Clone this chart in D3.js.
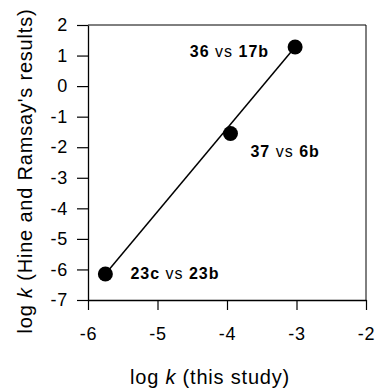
<!DOCTYPE html>
<html>
<head>
<meta charset="utf-8">
<script src="https://cdn.jsdelivr.net/npm/d3@7"></script>
<style>
  body { margin: 0; background: #fff; }
  svg text { font-family: "Liberation Sans", Arial, sans-serif; fill: #000; }
</style>
</head>
<body>
<script>
// data
var xValues = [-5.75, -3.95, -3.02];
var yValues = [-6.15, -1.55, 1.28];
var leftNames = ["23c", "37", "36"];
var rightNames = ["23b", "6b", "17b"];
var xTicks = [-6, -5, -4, -3, -2];
var yTicks = [2, 1, 0, -1, -2, -3, -4, -5, -6, -7];

// label placement relative to each point (pixels)
var labelOffsets = [[25, 5, "start"], [20, 24, "start"], [-26, 10, "end"]];

var width = 375,
    height = 390;

var svg = d3.select("body")
    .append("svg")
    .attr("width", width)
    .attr("height", height);

var x = d3.scaleLinear().domain([-6, -2]).range([88, 366]);
var y = d3.scaleLinear().domain([-7, 2]).range([300, 25]);

//frame (top and right sides)
svg.append("path")
    .attr("d", "M" + x(-6) + "," + y(2) + "H" + x(-2) + "V" + y(-7))
    .attr("fill", "none")
    .attr("stroke", "#000")
    .attr("stroke-width", 1);

//x axis
var xAxis = svg.append("g")
    .attr("transform", "translate(0," + y(-7) + ")")
    .call(d3.axisBottom(x).tickValues(xTicks).tickSize(10).tickSizeOuter(0).tickPadding(17));

//y axis
var yAxis = svg.append("g")
    .attr("transform", "translate(" + x(-6) + ",0)")
    .call(d3.axisLeft(y).tickValues(yTicks).tickSize(11).tickSizeOuter(0).tickPadding(9));

[xAxis, yAxis].forEach(function (g) {
    g.select(".domain").attr("stroke-width", 1.3);
    g.selectAll(".tick line").attr("stroke-width", 1.2);
    g.selectAll(".tick text")
        .style("font-size", "18px")
        .style("letter-spacing", "0.8px")
        .text(function (d) { return d < 0 ? "-" + Math.abs(d) : d; });
});

//fit line
var points = xValues.map(function (d, i) { return [d, yValues[i]]; });
svg.append("path")
    .datum([points[0], points[points.length - 1]])
    .attr("d", d3.line().x(function (d) { return x(d[0]); }).y(function (d) { return y(d[1]); }))
    .attr("fill", "none")
    .attr("stroke", "#000")
    .attr("stroke-width", 1.5);

//points
svg.selectAll(".dot")
    .data(points)
    .enter()
    .append("circle")
    .attr("class", "dot")
    .attr("cx", function (d) { return x(d[0]); })
    .attr("cy", function (d) { return y(d[1]); })
    .attr("r", 7.5)
    .attr("fill", "#000");

//point labels
var labels = svg.selectAll(".plabel")
    .data(points)
    .enter()
    .append("text")
    .attr("class", "plabel")
    .attr("x", function (d, i) { return x(d[0]) + labelOffsets[i][0]; })
    .attr("y", function (d, i) { return y(d[1]) + labelOffsets[i][1]; })
    .attr("text-anchor", function (d, i) { return labelOffsets[i][2]; })
    .style("font-size", "16px")
    .style("letter-spacing", "1px");

labels.append("tspan").attr("font-weight", "bold").text(function (d, i) { return leftNames[i]; });
labels.append("tspan").text(" vs ");
labels.append("tspan").attr("font-weight", "bold").text(function (d, i) { return rightNames[i]; });

//axis titles
var xTitle = svg.append("text")
    .attr("x", 210)
    .attr("y", 384)
    .attr("text-anchor", "middle")
    .style("font-size", "20px")
    .style("letter-spacing", "0.8px");
xTitle.append("tspan").text("log ");
xTitle.append("tspan").attr("font-style", "italic").text("k");
xTitle.append("tspan").text(" (this study)");

var yTitle = svg.append("text")
    .attr("transform", "translate(32,171) rotate(-90)")
    .attr("text-anchor", "middle")
    .style("font-size", "20px")
    .style("letter-spacing", "0.8px");
yTitle.append("tspan").text("log ");
yTitle.append("tspan").attr("font-style", "italic").text("k");
yTitle.append("tspan").text(" (Hine and Ramsay's results)");
</script>
</body>
</html>
